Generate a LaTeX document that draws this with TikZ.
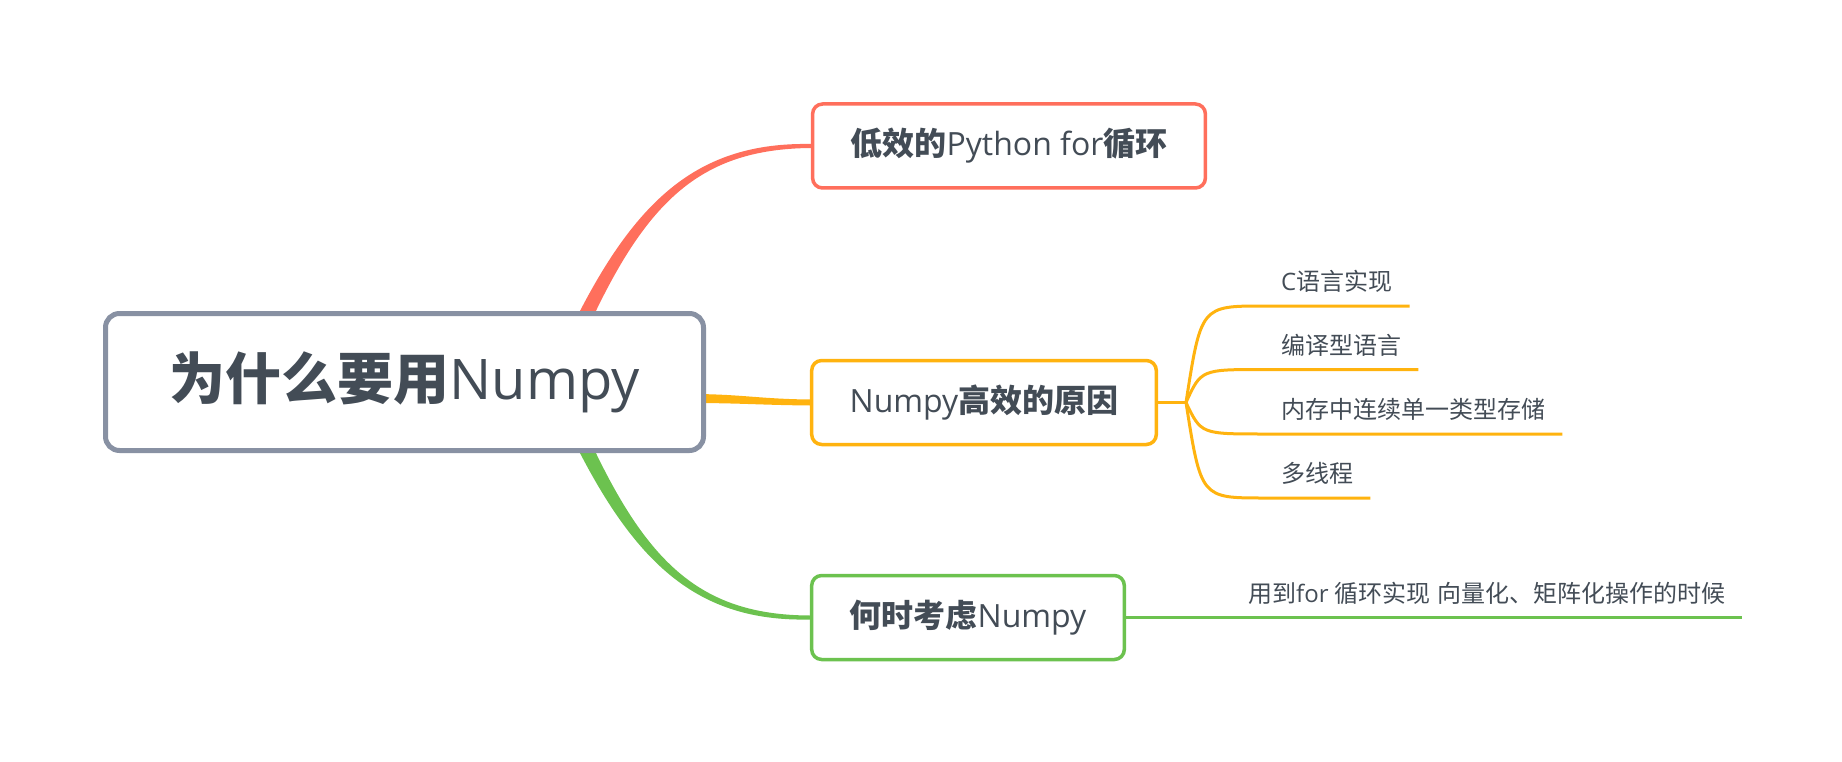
\documentclass[tikz,border=0pt]{standalone}
\usepackage{fontspec}
\setmainfont{Open Sans}
\newfontfamily\cjk{Noto Sans CJK SC}
\newcommand\hanzi[1]{{\cjk #1}}
\newcommand\hanzib[1]{{\cjk\bfseries #1}}
\usetikzlibrary{backgrounds}
\definecolor{txt}{RGB}{67,76,86}
\definecolor{rootgray}{RGB}{136,145,163}
\definecolor{bred}{RGB}{255,111,92}
\definecolor{byellow}{RGB}{255,179,15}
\definecolor{bgreen}{RGB}{108,194,79}

\begin{document}
\begin{tikzpicture}[x=1pt, y=-1pt,
  root/.style={draw=rootgray, line width=5, rounded corners=14, fill=white,
    minimum width=598, minimum height=137, text=txt, font=\fontsize{56}{64}\selectfont},
  topic/.style={draw=#1, line width=3.5, rounded corners=10, fill=white,
    minimum height=84, inner xsep=38, text=txt, font=\fontsize{32}{38}\selectfont},
  leaf/.style={anchor=south west, inner xsep=17, inner ysep=15, text depth=0pt,
    text=txt, font=\fontsize{24}{28}\selectfont},
  twig/.style={draw=#1, line width=3}]

  \useasboundingbox (0,0) rectangle (1842,762);

  \node[root] (root) at (404.5,382) {\hanzib{为什么要用}Numpy};

  \node[topic=bred] (n1) at (1009,146) {\hanzib{低效的}Python for\hanzib{循环}};
  \node[topic=byellow] (n2) at (984,402.5) {Numpy\hanzib{高效的原因}};
  \node[topic=bgreen] (n3) at (968,617.5) {\hanzib{何时考虑}Numpy};

  \begin{scope}[on background layer]
    \fill[bred] (568,335) .. controls (633,200) and (697,142) .. ([yshift=2pt]n1.west)
      -- ([yshift=-2pt]n1.west) .. controls (697,149) and (643,204) .. (582,341) -- cycle;
    \fill[byellow] (690,394) .. controls (740,394) and (760,399) .. ([yshift=3pt]n2.west)
      -- ([yshift=-3pt]n2.west) .. controls (760,405) and (740,403) .. (690,403) -- cycle;
    \fill[bgreen] (568,429) .. controls (633,564) and (697,622) .. ([yshift=-2pt]n3.west)
      -- ([yshift=2pt]n3.west) .. controls (697,615) and (643,560) .. (582,423) -- cycle;
  \end{scope}

  \coordinate (fork) at (1186,402.5);
  \coordinate (knee) at (1201,402.5);
  \node[leaf] (s1) at (1264,306) {C\hanzi{语言实现}};
  \node[leaf] (s2) at (1264,369.5) {\hanzi{编译型语言}};
  \node[leaf] (s3) at (1264,434) {\hanzi{内存中连续单一类型存储}};
  \node[leaf] (s4) at (1264,498) {\hanzi{多线程}};

  \draw[twig=byellow] (n2.east) -- (fork);
  \foreach \s in {s1,s2,s3,s4}
    \draw[twig=byellow] (fork) .. controls (knee |- \s.south west) .. (\s.south west) -- (\s.south east);

  \node[leaf] (g1) at (1231,617.5) {\hanzi{用到}for \hanzi{循环实现} \hanzi{向量化、矩阵化操作的时候}};
  \draw[twig=bgreen] (n3.east) -- (g1.south east);
\end{tikzpicture}
\end{document}
